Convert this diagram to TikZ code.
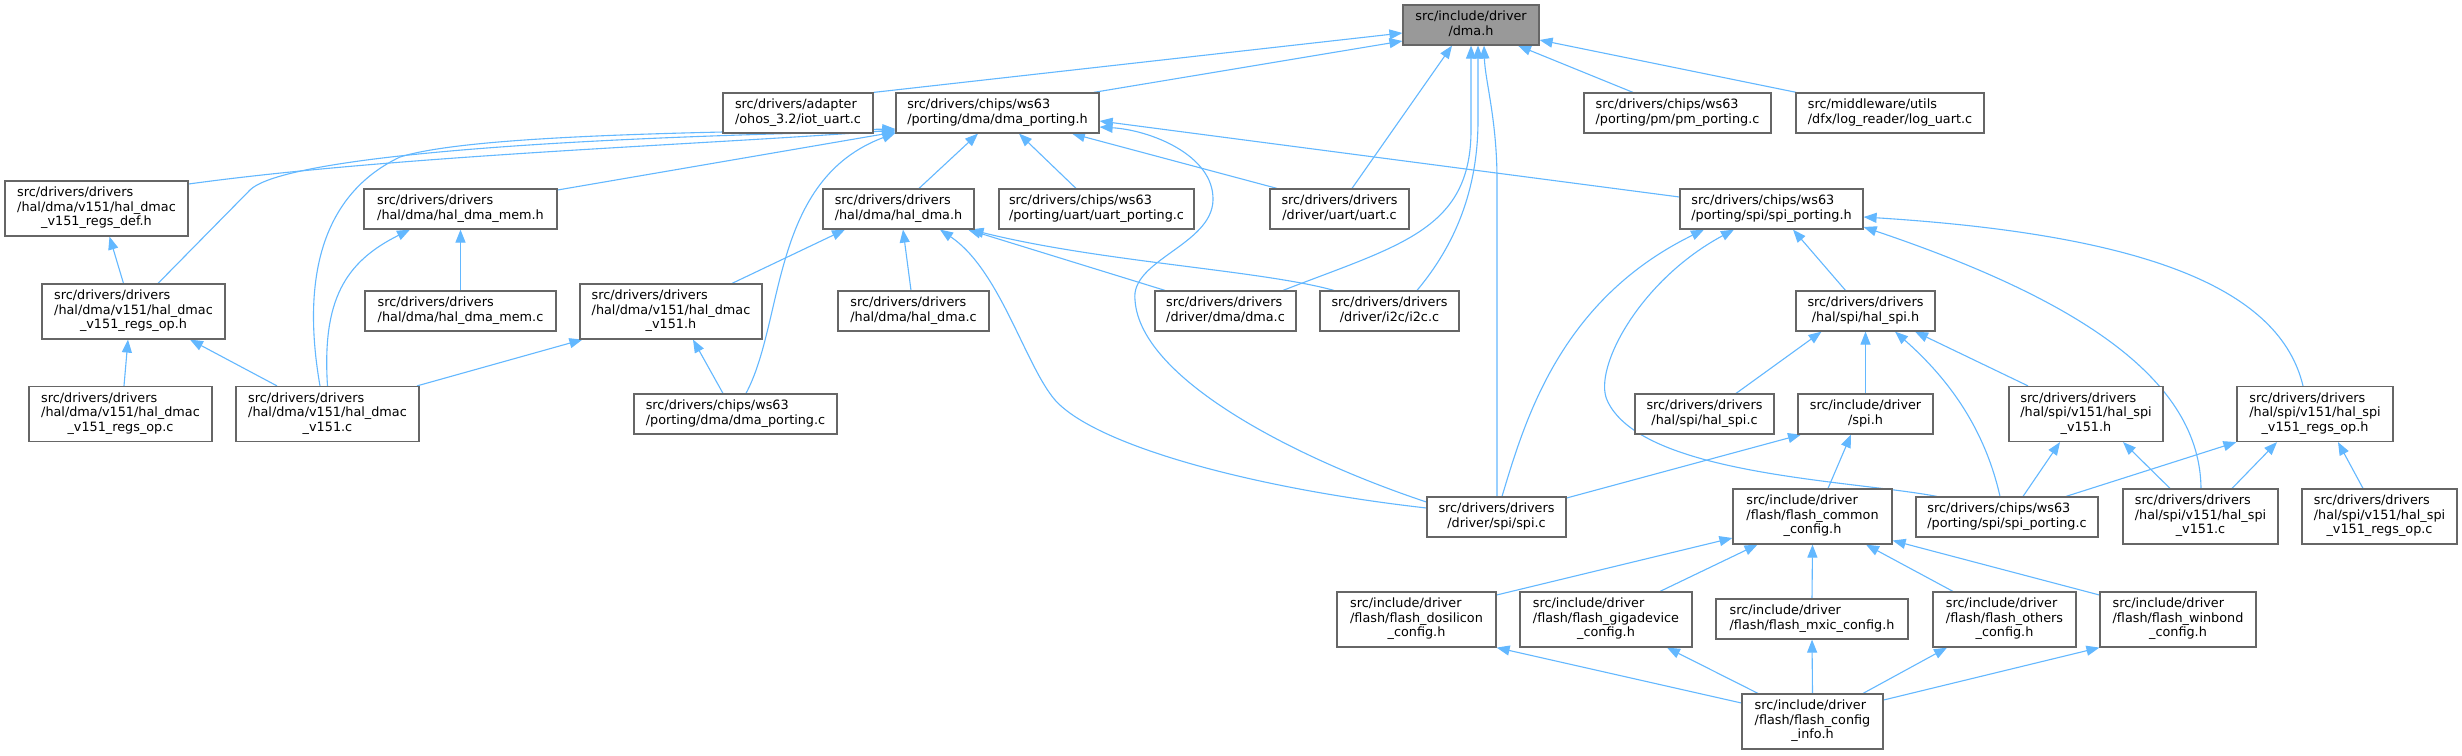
\documentclass[tikz,border=0pt]{standalone}
\usepackage{fontspec}
\setmainfont{DejaVu Sans}
\usetikzlibrary{arrows.meta}
\definecolor{sb}{HTML}{63B8FF}
\definecolor{bord}{HTML}{666666}
\definecolor{rootf}{HTML}{999999}
\newcommand{\twol}[2]{\begin{tabular}{@{}l@{}}#1\\\multicolumn{1}{@{}c@{}}{#2}\end{tabular}}
\newcommand{\threel}[3]{\begin{tabular}{@{}l@{}}#1\\#2\\\multicolumn{1}{@{}c@{}}{#3}\end{tabular}}
\pgfdeclarelayer{bg}
\pgfsetlayers{bg,main}
\begin{document}
\begin{tikzpicture}[x=1pt,y=-1pt,
  box/.style={draw=bord,line width=1.2pt,fill=white,inner sep=0pt,font=\fontsize{12.8}{14.5}\selectfont},
  two/.style={box,minimum height=40pt},
  three/.style={box,minimum height=55pt},
  edge/.style={draw=sb,line width=1.1pt,-{Triangle[length=13pt,width=10pt]}}]
\useasboundingbox (0,0) rectangle (2462,755);
% row 0
\node[two,fill=rootf,minimum width=136pt] (dmah) at (1471,25) {\twol{src/include/driver}{/dma.h}};
% row 1
\node[two,minimum width=150pt] (iotuart) at (798,113) {\twol{src/drivers/adapter}{/ohos\_3.2/iot\_uart.c}};
\node[two,minimum width=203pt] (dmaph) at (997.5,113) {\twol{src/drivers/chips/ws63}{/porting/dma/dma\_porting.h}};
\node[two,minimum width=187pt] (pm) at (1677.5,113) {\twol{src/drivers/chips/ws63}{/porting/pm/pm\_porting.c}};
\node[two,minimum width=188pt] (loguart) at (1890,113) {\twol{src/middleware/utils}{/dfx/log\_reader/log\_uart.c}};
% row 2
\node[three,minimum width=183pt] (regsdef) at (96.5,208.5) {\threel{src/drivers/drivers}{/hal/dma/v151/hal\_dmac}{\_v151\_regs\_def.h}};
\node[two,minimum width=193pt] (dmamemh) at (460.5,209) {\twol{src/drivers/drivers}{/hal/dma/hal\_dma\_mem.h}};
\node[two,minimum width=151pt] (haldmah) at (898.5,209) {\twol{src/drivers/drivers}{/hal/dma/hal\_dma.h}};
\node[two,minimum width=195pt] (uartporting) at (1096.5,209) {\twol{src/drivers/chips/ws63}{/porting/uart/uart\_porting.c}};
\node[two,minimum width=139pt] (uartc) at (1339.5,209) {\twol{src/drivers/drivers}{/driver/uart/uart.c}};
\node[two,minimum width=183pt] (spiph) at (1771.5,209) {\twol{src/drivers/chips/ws63}{/porting/spi/spi\_porting.h}};
% row 3
\node[three,minimum width=183pt] (regsoph) at (133.5,311.5) {\threel{src/drivers/drivers}{/hal/dma/v151/hal\_dmac}{\_v151\_regs\_op.h}};
\node[two,minimum width=191pt] (dmamemc) at (460.5,311) {\twol{src/drivers/drivers}{/hal/dma/hal\_dma\_mem.c}};
\node[three,minimum width=182pt] (v151h) at (671,311.5) {\threel{src/drivers/drivers}{/hal/dma/v151/hal\_dmac}{\_v151.h}};
\node[two,minimum width=151pt] (haldmac) at (913.5,311) {\twol{src/drivers/drivers}{/hal/dma/hal\_dma.c}};
\node[two,minimum width=141pt] (dmac) at (1225.5,311) {\twol{src/drivers/drivers}{/driver/dma/dma.c}};
\node[two,minimum width=139pt] (i2cc) at (1389.5,311) {\twol{src/drivers/drivers}{/driver/i2c/i2c.c}};
\node[two,minimum width=139pt] (halspih) at (1865.5,311) {\twol{src/drivers/drivers}{/hal/spi/hal\_spi.h}};
% row 4
\node[three,minimum width=183pt] (regsopc) at (120.5,414) {\threel{src/drivers/drivers}{/hal/dma/v151/hal\_dmac}{\_v151\_regs\_op.c}};
\node[three,minimum width=183pt] (v151c) at (327.5,414) {\threel{src/drivers/drivers}{/hal/dma/v151/hal\_dmac}{\_v151.c}};
\node[two,minimum width=203pt] (dmapc) at (735.5,414) {\twol{src/drivers/chips/ws63}{/porting/dma/dma\_porting.c}};
\node[two,minimum width=139pt] (halspic) at (1704.5,414) {\twol{src/drivers/drivers}{/hal/spi/hal\_spi.c}};
\node[two,minimum width=135pt] (spih) at (1865.5,414) {\twol{src/include/driver}{/spi.h}};
\node[three,minimum width=154pt] (spiv151h) at (2086,414) {\threel{src/drivers/drivers}{/hal/spi/v151/hal\_spi}{\_v151.h}};
\node[three,minimum width=156pt] (spiregsoph) at (2315,414) {\threel{src/drivers/drivers}{/hal/spi/v151/hal\_spi}{\_v151\_regs\_op.h}};
% row 5
\node[two,minimum width=139pt] (spic) at (1496.5,517) {\twol{src/drivers/drivers}{/driver/spi/spi.c}};
\node[three,minimum width=159pt] (flashcommon) at (1812.5,516.5) {\threel{src/include/driver}{/flash/flash\_common}{\_config.h}};
\node[two,minimum width=182pt] (spipc) at (2007,517) {\twol{src/drivers/chips/ws63}{/porting/spi/spi\_porting.c}};
\node[three,minimum width=155pt] (spiv151c) at (2200.5,516.5) {\threel{src/drivers/drivers}{/hal/spi/v151/hal\_spi}{\_v151.c}};
\node[three,minimum width=155pt] (spiregsopc) at (2379.5,516.5) {\threel{src/drivers/drivers}{/hal/spi/v151/hal\_spi}{\_v151\_regs\_op.c}};
% row 6
\node[three,minimum width=159pt] (dosilicon) at (1416.5,619.5) {\threel{src/include/driver}{/flash/flash\_dosilicon}{\_config.h}};
\node[three,minimum width=172pt] (gigadevice) at (1606,619.5) {\threel{src/include/driver}{/flash/flash\_gigadevice}{\_config.h}};
\node[two,minimum width=192pt] (mxic) at (1812,619) {\twol{src/include/driver}{/flash/flash\_mxic\_config.h}};
\node[three,minimum width=143pt] (others) at (2004.5,619.5) {\threel{src/include/driver}{/flash/flash\_others}{\_config.h}};
\node[three,minimum width=156pt] (winbond) at (2178,619.5) {\threel{src/include/driver}{/flash/flash\_winbond}{\_config.h}};
% row 7
\node[three,minimum width=141pt] (flashinfo) at (1812.5,721.5) {\threel{src/include/driver}{/flash/flash\_config}{\_info.h}};

\begin{pgfonlayer}{bg}
\fill[white] (0,0) rectangle (2462,755);
% into dma.h
\draw[edge] (iotuart.north east) -- ([yshift=-8pt]dmah.west);
\draw[edge] ([xshift=-6pt]dmaph.north east) -- ([yshift=-16pt]dmah.west);
\draw[edge] ([xshift=12.5pt]uartc.north) -- ([xshift=-19pt]dmah.south);
\draw[edge] ([xshift=57.5pt]dmac.north) .. controls (1400,245) and (1471,230) .. (1471,130) -- (dmah.south);
\draw[edge] ([xshift=27.5pt]i2cc.north) .. controls (1455,245) and (1478,190) .. (1478,120) -- ([xshift=7pt]dmah.south);
\draw[edge] ([xshift=0.5pt]spic.north) -- (1497,180) .. controls (1497,120) and (1485,80) .. ([xshift=13pt]dmah.south);
\draw[edge] ([xshift=-44.5pt]pm.north) -- ([xshift=47pt]dmah.south);
\draw[edge] ([xshift=1pt]loguart.north west) -- ([yshift=-15pt]dmah.east);
% into dma_porting.h
\draw[edge] ([xshift=20.5pt]haldmah.north) -- ([xshift=-19.5pt]dmaph.south);
\draw[edge] ([xshift=-20.5pt]uartporting.north) -- ([xshift=21.5pt]dmaph.south);
\draw[edge] ([xshift=-62.5pt]uartc.north) -- ([xshift=74.5pt]dmaph.south);
\draw[edge] ([yshift=12pt]spiph.west) -- ([yshift=-8pt]dmaph.east);
\draw[edge] ([yshift=15pt]spic.west) .. controls (1300,460) and (1140,380) .. (1135,300) .. controls (1130,260) and (1212,245) .. (1213,200) .. controls (1214,155) and (1150,130) .. ([yshift=-14pt]dmaph.east);
\draw[edge] ([yshift=24.5pt]regsdef.east) .. controls (400,155) and (700,145) .. ([yshift=-17pt]dmaph.west);
\draw[edge] ([xshift=24.5pt]regsoph.north) -- (250,190) .. controls (275,165) and (450,140) .. ([yshift=-18pt]dmaph.west);
\draw[edge] ([yshift=19pt]dmamemh.east) -- ([yshift=-19pt]dmaph.west);
\draw[edge] ([xshift=-7.5pt]v151c.north) .. controls (305,300) and (310,200) .. (400,157) .. controls (470,135) and (700,132) .. ([yshift=-16pt]dmaph.west);
\draw[edge] ([xshift=10.5pt]dmapc.north) .. controls (785,320) and (770,180) .. ([yshift=-20pt]dmaph.west);
% into hal_dma.h
\draw[edge] ([xshift=61pt]v151h.north) -- ([xshift=-53.5pt]haldmah.south);
\draw[edge] ([xshift=-2.5pt]haldmac.north) -- ([xshift=4.5pt]haldmah.south);
\draw[edge] ([yshift=9pt]spic.west) .. controls (1250,488) and (1095,445) .. (1055,400) .. controls (1025,365) and (1000,270) .. ([xshift=41.5pt]haldmah.south);
\draw[edge] ([xshift=-60.5pt]dmac.north) -- ([xshift=69.5pt]haldmah.south);
\draw[edge] ([xshift=-55.5pt]i2cc.north) .. controls (1260,270) and (1100,262) .. ([xshift=72pt]haldmah.south);
% dma hal internals
\draw[edge] (dmamemc.north) -- (dmamemh.south);
\draw[edge] (v151c.north) .. controls (322,300) and (345,262) .. ([xshift=-50.5pt]dmamemh.south);
\draw[edge] ([xshift=-10pt]regsoph.north) -- ([xshift=13pt]regsdef.south);
\draw[edge] ([xshift=3.5pt]regsopc.north) -- ([xshift=-5.5pt]regsoph.south);
\draw[edge] ([xshift=-50.5pt]v151c.north) -- ([xshift=56.5pt]regsoph.south);
\draw[edge] ([xshift=89.5pt]v151c.north) -- ([xshift=3pt]v151h.south west);
\draw[edge] ([xshift=-12.5pt]dmapc.north) -- ([xshift=22pt]v151h.south);
% into spi_porting.h
\draw[edge] ([xshift=-20pt]halspih.north) -- ([xshift=21.5pt]spiph.south);
\draw[edge] ([xshift=5.5pt]spic.north) .. controls (1525,420) and (1560,300) .. ([xshift=-67.5pt]spiph.south);
\draw[edge] ([xshift=-70pt]spipc.north) .. controls (1850,480) and (1640,475) .. (1607,400) .. controls (1593,368) and (1640,280) .. ([xshift=-37.5pt]spiph.south);
\draw[edge] ([xshift=0.5pt]spiv151c.north) .. controls (2200,380) and (2080,300) .. ([yshift=-18pt]spiph.east);
\draw[edge] ([xshift=-12pt]spiregsoph.north) .. controls (2280,290) and (2150,235) .. ([yshift=-8pt]spiph.east);
% into hal_spi.h
\draw[edge] ([xshift=31.5pt]halspic.north) -- ([xshift=-44pt]halspih.south);
\draw[edge] (spih.north) -- (halspih.south);
\draw[edge] ([xshift=-7pt]spipc.north) .. controls (1985,430) and (1950,380) .. ([xshift=29.5pt]halspih.south);
\draw[edge] ([xshift=-58pt]spiv151h.north) -- ([xshift=49.5pt]halspih.south);
% into spi.h
\draw[edge] ([yshift=19pt]spic.east) -- ([xshift=-64.5pt]spih.south);
\draw[edge] ([xshift=15.5pt]flashcommon.north) -- ([xshift=-14.5pt]spih.south);
% spi v151
\draw[edge] ([xshift=16pt]spipc.north) -- ([xshift=-26pt]spiv151h.south);
\draw[edge] ([xshift=59pt]spipc.north) -- (spiregsoph.south west);
\draw[edge] ([xshift=-30.5pt]spiv151c.north) -- ([xshift=37pt]spiv151h.south);
\draw[edge] ([xshift=31.5pt]spiv151c.north) -- ([xshift=-38pt]spiregsoph.south);
\draw[edge] ([xshift=-16.5pt]spiregsopc.north) -- ([xshift=23pt]spiregsoph.south);
% flash
\draw[edge] ([yshift=24.5pt]dosilicon.east) -- ([yshift=-21.5pt]flashcommon.west);
\draw[edge] ([xshift=54pt]gigadevice.north) -- ([xshift=-55pt]flashcommon.south);
\draw[edge] (mxic.north) -- (flashcommon.south);
\draw[edge] ([xshift=-51.5pt]others.north) -- ([xshift=53.5pt]flashcommon.south);
\draw[edge] ([yshift=24.5pt]winbond.west) -- ([yshift=-24pt]flashcommon.east);
\draw[edge] ([yshift=18.5pt]flashinfo.west) -- (dosilicon.south east);
\draw[edge] ([xshift=-54.5pt]flashinfo.north) -- ([xshift=61pt]gigadevice.south);
\draw[edge] (flashinfo.north) -- (mxic.south);
\draw[edge] ([xshift=50.5pt]flashinfo.north) -- ([xshift=-57.5pt]others.south);
\draw[edge] ([yshift=21.5pt]flashinfo.east) -- (winbond.south west);
\end{pgfonlayer}
\end{tikzpicture}
\end{document}
